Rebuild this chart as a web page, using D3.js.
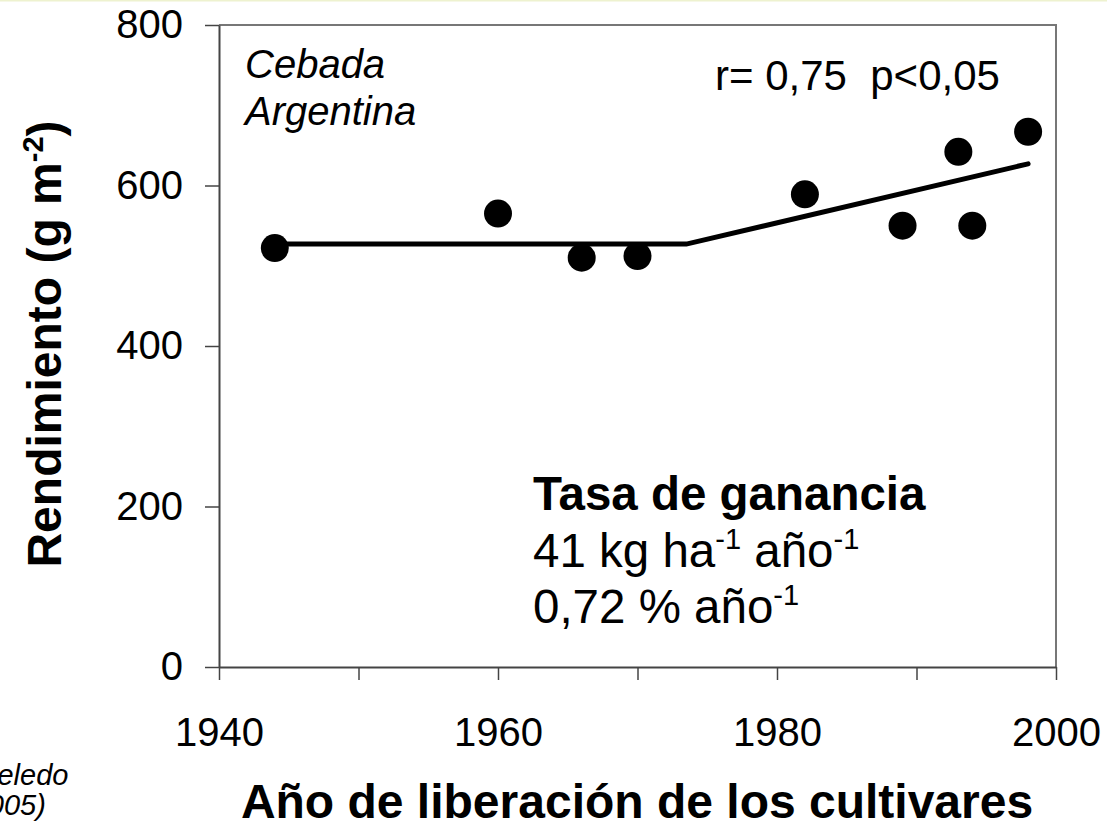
<!DOCTYPE html>
<html>
<head>
<meta charset="utf-8">
<script src="https://cdn.jsdelivr.net/npm/d3@7"></script>
<style>
  body { margin: 0; background: #fff; }
  svg { display: block; font-family: Arial, "Liberation Sans", sans-serif; }
</style>
</head>
<body>
<div id="chart"></div>
<script>
`use strict`;

// data
let years = [1944, 1960, 1966, 1970, 1982, 1989, 1993, 1994, 1998];
let yields = [522, 565, 510, 512, 589, 550, 642, 550, 667];
// broken-line fit: plateau then 41 kg/ha/yr
let fitYears = [1944, 1973.5, 1998];
let fitYields = [527, 527, 627];
let xTicks = [1940, 1950, 1960, 1970, 1980, 1990, 2000];
let yTicks = [0, 200, 400, 600, 800];

let w = 1107, h = 827;
let margin = {left: 219, right: 1056, top: 25, bottom: 667};

let svg = d3.select('#chart').append('svg')
    .attr('width', w).attr('height', h);

// thin pale strip at the very top
svg.append('rect').attr('x', 0).attr('y', 0).attr('width', w).attr('height', 1.5)
    .attr('fill', '#eef2cf');

let x = d3.scaleLinear().domain([1940, 2000]).range([margin.left, margin.right]);
let y = d3.scaleLinear().domain([0, 800]).range([margin.bottom, margin.top]);

//frame top + right
svg.append('path')
    .attr('d', `M${x(1940)},${y(800)}H${x(2000)}V${y(0)}`)
    .attr('fill', 'none').attr('stroke', '#777').attr('stroke-width', 2);

let yAxis = svg.append('g')
    .attr('transform', `translate(${margin.left},0)`)
    .call(d3.axisLeft(y).tickValues(yTicks).tickSize(14).tickPadding(22).tickSizeOuter(0));

let xAxis = svg.append('g')
    .attr('transform', `translate(0,${margin.bottom})`)
    .call(d3.axisBottom(x).tickValues(xTicks).tickSize(13).tickPadding(38).tickSizeOuter(0)
        .tickFormat((d) => { return d % 20 === 0 ? d : ''; }));

for (let a of [xAxis, yAxis]) {
    a.select('.domain').attr('stroke', '#444').attr('stroke-width', 2);
    a.selectAll('.tick line').attr('stroke', '#444').attr('stroke-width', 1.5);
    a.selectAll('.tick text').attr('font-size', 40).attr('fill', '#000')
        .attr('font-family', 'Arial, "Liberation Sans", sans-serif');
}

// regression line
let line = d3.line()
    .x((d) => { return x(d[0]); }).y((d) => { return y(d[1]); });

svg.append('path')
    .datum(fitYears.map((d, i) => [d, fitYields[i]]))
    .attr('d', line)
    .attr('fill', 'none').attr('stroke', '#000').attr('stroke-width', 5)
    .attr('stroke-linecap', 'round');

svg.selectAll('circle.pt')
    .data(years.map((d, i) => [d, yields[i]]))
    .enter().append('circle')
    .classed('pt', true)
    .attr('cx', (d) => x(d[0]))
    .attr('cy', (d) => y(d[1]))
    .attr('r', 14)
    .attr('fill', '#000');

// annotations
svg.append('text').attr('x', 245).attr('y', 78)
    .attr('font-size', 40).attr('font-style', 'italic').text('Cebada');
svg.append('text').attr('x', 245).attr('y', 125)
    .attr('font-size', 40).attr('font-style', 'italic').text('Argentina');

svg.append('text').attr('x', 715).attr('y', 90)
    .attr('font-size', 42).style('white-space', 'pre').text('r= 0,75  p<0,05');

svg.append('text').attr('x', 533).attr('y', 510)
    .attr('font-size', 47.5).attr('font-weight', 'bold').text('Tasa de ganancia');

let t2 = svg.append('text').attr('x', 533).attr('y', 567).attr('font-size', 47.5);
t2.append('tspan').text('41 kg ha');
t2.append('tspan').attr('dy', -18).attr('font-size', 29).text('-1');
t2.append('tspan').attr('dy', 18).text(' año');
t2.append('tspan').attr('dy', -18).attr('font-size', 29).text('-1');

let t3 = svg.append('text').attr('x', 533).attr('y', 623).attr('font-size', 47.5);
t3.append('tspan').text('0,72 % año');
t3.append('tspan').attr('dy', -18).attr('font-size', 29).text('-1');

// axis titles
svg.append('text').attr('x', 637).attr('y', 818)
    .attr('text-anchor', 'middle').attr('font-size', 48).attr('font-weight', 'bold')
    .text('Año de liberación de los cultivares');

let yt = svg.append('text')
    .attr('transform', 'translate(61,344) rotate(-90)')
    .attr('text-anchor', 'middle').attr('font-size', 48).attr('font-weight', 'bold');
yt.append('tspan').text('Rendimiento (g m');
yt.append('tspan').attr('dy', -18).attr('font-size', 29).text('-2');
yt.append('tspan').attr('dy', 18).text(')');

// source, cut at left edge as in the original
svg.append('text').attr('x', -38).attr('y', 785)
    .attr('font-size', 29).attr('font-style', 'italic').text('Abeledo');
svg.append('text').attr('x', -38).attr('y', 815)
    .attr('font-size', 29).attr('font-style', 'italic').text('(2005)');
</script>
</body>
</html>
